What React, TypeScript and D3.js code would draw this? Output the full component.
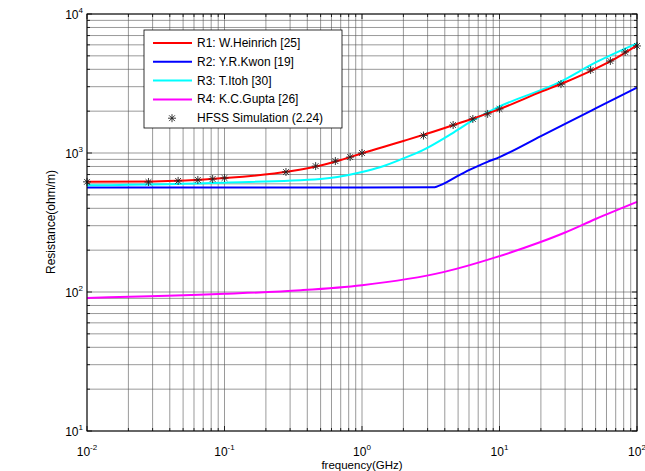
import React from "react";
import { scaleLog, line, curveMonotoneX } from "d3";

// R1: W.Heinrich [25]
const r1Freq = [0.01, 0.03, 0.1, 0.3, 0.5, 0.7, 1, 2, 3, 5, 10, 20, 30, 50, 70, 100];
const r1Res = [622, 624, 660, 738, 812, 890, 995, 1220, 1380, 1630, 2070, 2750, 3230, 4050, 4800, 5950];

// R2: Y.R.Kwon [19]
const r2Freq = [0.01, 0.1, 1, 3.3, 3.9, 4.9, 6.1, 8.1, 10, 20, 30, 50, 100];
const r2Res = [565, 565, 565, 566, 600, 680, 760, 860, 935, 1322, 1619, 2091, 2960];

// R3: T.Itoh [30]
const r3Freq = [0.01, 0.1, 0.5, 1, 1.35, 2, 2.75, 4.5, 6.3, 9.6, 27.6, 50, 100];
const r3Res = [585, 612, 650, 730, 790, 915, 1045, 1380, 1700, 2120, 3245, 4480, 6150];

// R4: K.C.Gupta [26]
const r4Freq = [0.01, 0.1, 0.36, 1, 3.9, 9.6, 19, 30, 50, 100];
const r4Res = [90.6, 97, 103, 112, 139, 179, 225, 268, 335, 445];

// HFSS Simulation (2.24)
const hfssFreq = [0.01, 0.028, 0.046, 0.064, 0.082, 0.1, 0.28, 0.46, 0.64, 0.82, 1, 2.8, 4.6, 6.4, 8.2, 10, 28, 46, 64, 82, 100];
const hfssRes = [620, 618, 630, 640, 650, 661, 730, 805, 875, 935, 1000, 1335, 1590, 1757, 1910, 2074, 3130, 3955, 4590, 5330, 5890];

const xDecades = [-2, -1, 0, 1, 2];
const yDecades = [1, 2, 3, 4];

const legendItems = [
  { label: "R1: W.Heinrich [25]", color: "#ff0000" },
  { label: "R2: Y.R.Kwon [19]", color: "#0000ff" },
  { label: "R3: T.Itoh [30]", color: "#00ffff" },
  { label: "R4: K.C.Gupta [26]", color: "#ff00ff" },
  { label: "HFSS Simulation (2.24)", color: null },
];

const font = "'Liberation Sans', Arial, sans-serif";

const Star = ({ x, y, r = 4 }: { x: number; y: number; r?: number }) => {
  const d = r * 0.72;
  return (
    <path
      d={`M${x - r},${y}L${x + r},${y}M${x},${y - r}L${x},${y + r}M${x - d},${y - d}L${x + d},${y + d}M${x - d},${y + d}L${x + d},${y - d}`}
      stroke="#222"
      strokeWidth={0.9}
    />
  );
};

const App = () => {
  const width = 645;
  const height = 471;
  const left = 87;
  const right = 637;
  const top = 14;
  const bottom = 431;

  const xScale = scaleLog().domain([0.01, 100]).range([left, right]);
  const yScale = scaleLog().domain([10, 10000]).range([bottom, top]);

  const xMinor: number[] = [];
  for (let e = -2; e < 2; e++) for (let m = 1; m <= 9; m++) xMinor.push(m * Math.pow(10, e));
  xMinor.push(100);
  const yMinor: number[] = [];
  for (let e = 1; e < 4; e++) for (let m = 1; m <= 9; m++) yMinor.push(m * Math.pow(10, e));
  yMinor.push(10000);

  const path = line<[number, number]>()
    .x((d) => xScale(d[0]))
    .y((d) => yScale(d[1]))
    .curve(curveMonotoneX);

  const series = [
    { f: r4Freq, r: r4Res, color: "#ff00ff" },
    { f: r2Freq, r: r2Res, color: "#0000ff" },
    { f: r3Freq, r: r3Res, color: "#00ffff" },
    { f: r1Freq, r: r1Res, color: "#ff0000" },
  ];

  const lx = 144;
  const ly = 30;
  const lw = 198;
  const lh = 98;

  return (
    <svg width={width} height={height} style={{ position: "absolute", left: 0, top: 0, background: "#fff" }}>
      <rect x={0} y={0} width={width} height={height} fill="#fff" />
      {/* grid */}
      {xMinor.map((v, i) => (
        <line key={"gx" + i} x1={xScale(v)} x2={xScale(v)} y1={top} y2={bottom} stroke="#555" strokeWidth={0.6} />
      ))}
      {yMinor.map((v, i) => (
        <line key={"gy" + i} y1={yScale(v)} y2={yScale(v)} x1={left} x2={right} stroke="#555" strokeWidth={0.6} />
      ))}
      {/* ticks */}
      {xMinor.map((v, i) => {
        const len = Number.isInteger(Math.log10(v)) ? 5 : 3;
        return (
          <g key={"tx" + i} stroke="#000" strokeWidth={0.8}>
            <line x1={xScale(v)} x2={xScale(v)} y1={bottom} y2={bottom - len} />
            <line x1={xScale(v)} x2={xScale(v)} y1={top} y2={top + len} />
          </g>
        );
      })}
      {yMinor.map((v, i) => {
        const len = Number.isInteger(Math.log10(v)) ? 5 : 3;
        return (
          <g key={"ty" + i} stroke="#000" strokeWidth={0.8}>
            <line y1={yScale(v)} y2={yScale(v)} x1={left} x2={left + len} />
            <line y1={yScale(v)} y2={yScale(v)} x1={right} x2={right - len} />
          </g>
        );
      })}
      {/* curves */}
      {series.map((s, i) => (
        <path
          key={"s" + i}
          d={path(s.f.map((f, j) => [f, s.r[j]] as [number, number])) || ""}
          fill="none"
          stroke={s.color}
          strokeWidth={2}
        />
      ))}
      {hfssFreq.map((f, i) => (
        <Star key={"h" + i} x={xScale(f)} y={yScale(hfssRes[i])} />
      ))}
      {/* axes box */}
      <rect x={left} y={top} width={right - left} height={bottom - top} fill="none" stroke="#000" strokeWidth={1} />
      {/* tick labels */}
      {xDecades.map((e) => (
        <text key={"xl" + e} x={xScale(Math.pow(10, e))} y={456} textAnchor="middle" fontFamily={font} fontSize={12} fill="#000">
          10
          <tspan dy={-6} fontSize={8}>{e}</tspan>
        </text>
      ))}
      {yDecades.map((e) => (
        <text key={"yl" + e} x={83} y={yScale(Math.pow(10, e)) + 5} textAnchor="end" fontFamily={font} fontSize={12} fill="#000">
          10
          <tspan dy={-6} fontSize={8}>{e}</tspan>
        </text>
      ))}
      <text x={362} y={469} textAnchor="middle" fontFamily={font} fontSize={11.5} fill="#000">
        frequency(GHz)
      </text>
      <text
        transform={`translate(55,222) rotate(-90)`}
        textAnchor="middle"
        fontFamily={font}
        fontSize={12}
        fill="#000"
      >
        Resistance(ohm/m)
      </text>
      {/* legend */}
      <rect x={lx} y={ly} width={lw} height={lh} fill="#fff" stroke="#000" strokeWidth={0.8} />
      {legendItems.map((item, i) => {
        const yy = 43 + i * 18.8;
        return (
          <g key={"lg" + i}>
            {item.color ? (
              <line x1={153} x2={192} y1={yy} y2={yy} stroke={item.color} strokeWidth={2} />
            ) : (
              <Star x={172} y={yy} />
            )}
            <text x={197} y={yy + 4} fontFamily={font} fontSize={12} fill="#000">
              {item.label}
            </text>
          </g>
        );
      })}
    </svg>
  );
};

export default App;
